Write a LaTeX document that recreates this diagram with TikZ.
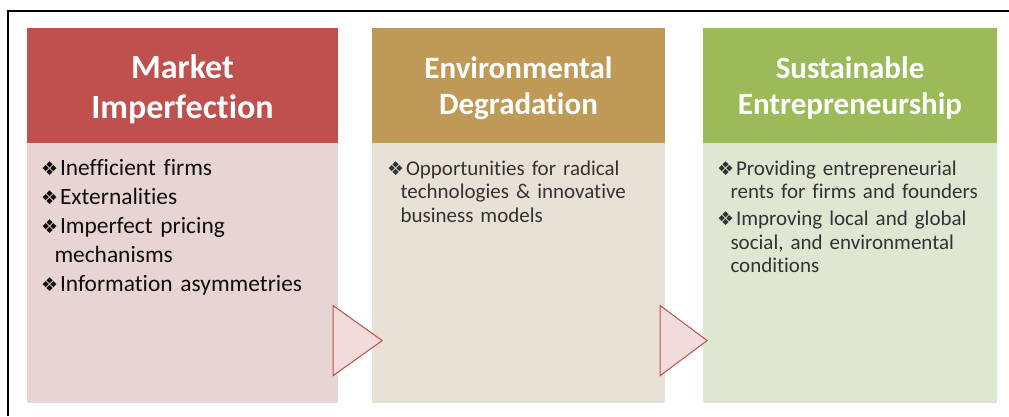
\documentclass[tikz,border=0pt]{standalone}
\usepackage{fontspec}
\setmainfont{Carlito}[Ligatures=NoCommon]
\newfontfamily\dingfont{DejaVu Sans}
\usetikzlibrary{positioning}

\definecolor{mktred}{HTML}{C0504D}
\definecolor{mktpink}{HTML}{E8D4D3}
\definecolor{envgold}{HTML}{BE9A56}
\definecolor{envsand}{HTML}{E8E2D6}
\definecolor{sustgreen}{HTML}{9BBB59}
\definecolor{sustsage}{HTML}{DFE7D3}
\definecolor{chevfill}{HTML}{F2DCDB}

% bullet mark and the indent of wrapped lines
\newcommand{\itm}{\makebox[19pt][l]{\dingfont\fontsize{19}{19}\selectfont ❖}}
\newcommand{\cont}{\hspace*{13.5pt}}

\tikzset{
  head/.style={inner sep=0pt, minimum height=115pt},
  title/.style={inner sep=0pt, text=white, align=center,
    font=\bfseries\fontsize{31}{36}\selectfont},
  body/.style={inner sep=0pt, minimum height=260pt},
  items/.style={anchor=base west, inner sep=0pt, text width=300pt, align=left},
  chevron/.style={draw=mktred, fill=chevfill, line width=1pt, line join=miter}
}

\begin{document}
\begin{tikzpicture}[x=1pt,y=-1pt]

\useasboundingbox (0,0) rectangle (1009,416);

% Market imperfection
\node[head,
    fill=mktred,
    minimum width=311pt] (mkthead) at (182.5,85.5) {};
\node[body,
    fill=mktpink,
    minimum width=311pt,
    below=0pt of mkthead] (mktbody) {};
\node[title,
    font=\bfseries\fontsize{34}{40}\selectfont] (mkttitle) at ([yshift=-4pt]mkthead.center) {Market\\Imperfection};

% Environmental degradation
\node[head,
    fill=envgold,
    minimum width=293pt] (envhead) at (518.5,85.5) {};
\node[body,
    fill=envsand,
    minimum width=293pt,
    below=0pt of envhead] (envbody) {};
\node[title] (envtitle) at ([yshift=-2.5pt]envhead.center) {Environmental\\Degradation};

% Sustainable entrepreneurship
\node[head,
    fill=sustgreen,
    minimum width=294pt] (susthead) at (850,85.5) {};
\node[body,
    fill=sustsage,
    minimum width=294pt,
    below=0pt of susthead] (sustbody) {};
\node[title] (susttitle) at ([yshift=-2.5pt]susthead.center) {Sustainable\\Entrepreneurship};

% Bullet lists
\node[items,
    text=black!95,
    font=\fontsize{23.4}{29}\selectfont] (mktlist) at ([xshift=14pt,yshift=-32pt]mktbody.north west)
    {\itm Inefficient firms\\
     \itm Externalities\\
     \itm Imperfect pricing\\
     \cont mechanisms\\
     \itm Information asymmetries};

\node[items,
    text=black!80,
    font=\fontsize{21}{23.5}\selectfont] (envlist) at ([xshift=15pt,yshift=-32pt]envbody.north west)
    {\itm Opportunities for radical\\
     \cont technologies \& innovative\\
     \cont business models};

\node[items,
    text=black!80,
    font=\fontsize{21}{23.5}\selectfont] (sustlist) at ([xshift=14pt,yshift=-32pt]sustbody.north west)
    {\itm Providing entrepreneurial\\
     \cont rents for firms and founders\\[3.5pt]
     \itm Improving local and global\\
     \cont social, and environmental\\
     \cont conditions};

% Chevrons between the stages
\draw[chevron] ([xshift=-5pt,yshift=28pt]mktbody.south east) -- ++(49pt,35pt) -- ++(-49pt,35pt) -- cycle;
\draw[chevron] ([xshift=-5pt,yshift=28pt]envbody.south east) -- ++(47pt,35pt) -- ++(-47pt,35pt) -- cycle;

% Frame, top and left sides only
\draw[line width=2pt] (8,416) -- (8,10.5) -- (1009,10.5);

\end{tikzpicture}
\end{document}
